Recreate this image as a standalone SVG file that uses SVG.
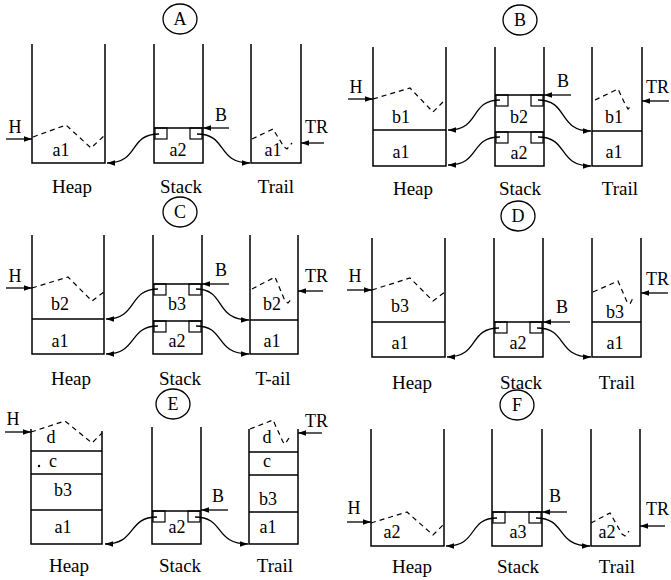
<svg xmlns="http://www.w3.org/2000/svg" width="671" height="580" viewBox="0 0 671 580">
<style>
.w{stroke:#000;stroke-width:1.5;fill:none}
.d{stroke:#000;stroke-width:1.2;fill:none;stroke-dasharray:5 4}
.n{stroke:#000;stroke-width:1.2;fill:none}
.c{stroke:#000;stroke-width:1.3;fill:none;marker-end:url(#ah)}
.p{stroke:#000;stroke-width:1.3;fill:none;marker-end:url(#ah)}
text{font-family:"Liberation Serif","Times New Roman",serif;font-size:18px;fill:#000}
.m{text-anchor:middle}
.lb{font-size:19px;text-anchor:middle}
.ci{stroke:#000;stroke-width:1.3;fill:none}
</style>
<defs>
<marker id="ah" markerUnits="userSpaceOnUse" markerWidth="9" markerHeight="7" refX="8" refY="3.5" orient="auto"><path d="M0,0.8 L8,3.5 L0,6.2 z" fill="#000"/></marker>
</defs>

<g id="tags">
<g id="tagA"><ellipse class="ci" cx="180" cy="19" rx="17" ry="15"/><text class="m" x="180" y="25">A</text></g>
<g id="tagB"><ellipse class="ci" cx="520" cy="20" rx="17" ry="15"/><text class="m" x="520" y="26">B</text></g>
<g id="tagC"><ellipse class="ci" cx="180" cy="212" rx="17" ry="15"/><text class="m" x="180" y="218">C</text></g>
<g id="tagD"><ellipse class="ci" cx="518" cy="216" rx="17" ry="15"/><text class="m" x="518" y="222">D</text></g>
<g id="tagE"><ellipse class="ci" cx="173" cy="404" rx="17" ry="15"/><text class="m" x="173" y="410">E</text></g>
<g id="tagF"><ellipse class="ci" cx="517" cy="405" rx="17" ry="15"/><text class="m" x="517" y="411">F</text></g>
</g>

<!-- Panel A -->
<g id="panelA">
<g id="A-heap"><path class="w" d="M32,44 V163 H105 V44"/><polyline class="d" points="33,137 66,125 91,148 105,135"/><text class="m" x="61" y="156">a1</text><text class="lb" x="72" y="193">Heap</text></g>
<g id="A-stack"><path class="w" d="M154,44 V163 H203 V44 M154,128 H203"/><rect class="n" x="155" y="128" width="12" height="11"/><rect class="n" x="190" y="128" width="12" height="11"/><text class="m" x="178" y="156">a2</text><text class="lb" x="181" y="193">Stack</text></g>
<g id="A-trail"><path class="w" d="M251,44 V163 H301 V44"/><polyline class="d" points="252,139 273,129 284,147 287,149 292,143"/><text class="m" x="273" y="156">a1</text><text class="lb" x="276" y="193">Trail</text></g>
<g id="A-regs"><text class="m" x="15" y="133">H</text><text class="m" x="221" y="121">B</text><text x="305" y="133">TR</text></g>
<g id="A-connectors">
<line class="p" x1="6" y1="139" x2="32" y2="139"/>
<line class="p" x1="229" y1="128" x2="203" y2="128"/>
<line class="p" x1="324" y1="143" x2="301" y2="143"/>
<path class="c" d="M159,134 C128,134 140,163 107,163"/>
<path class="c" d="M197,134 C228,134 216,163 250,163"/>
</g>
</g>

<!-- Panel B -->
<g id="panelB" transform="translate(341,3)">
<g id="B-heap"><path class="w" d="M32,44 V163 H105 V44 M32,127 H105"/><polyline class="d" points="32,96 69,85 92,109 104,97"/><text class="m" x="60" y="120">b1</text><text class="m" x="60" y="155">a1</text><text class="lb" x="72" y="192">Heap</text></g>
<g id="B-stack"><path class="w" d="M154,44 V163 H203 V44 M154,92 H203 M154,129 H203"/><rect class="n" x="155" y="92" width="12" height="11"/><rect class="n" x="190" y="92" width="12" height="11"/><rect class="n" x="155" y="129" width="12" height="11"/><rect class="n" x="190" y="129" width="12" height="11"/><text class="m" x="178" y="120">b2</text><text class="m" x="178" y="156">a2</text><text class="lb" x="179" y="192">Stack</text></g>
<g id="B-trail"><path class="w" d="M251,44 V163 H301 V44 M251,128 H301"/><polyline class="d" points="254,97 277,86 284,101 287,106 291,102"/><text class="m" x="273" y="120">b1</text><text class="m" x="273" y="155">a1</text><text class="lb" x="279" y="192">Trail</text></g>
<g id="B-regs"><text class="m" x="15" y="90">H</text><text class="m" x="222" y="84">B</text><text x="305" y="90">TR</text></g>
<g id="B-connectors">
<line class="p" x1="7" y1="96" x2="32" y2="96"/>
<line class="p" x1="230" y1="92" x2="203" y2="92"/>
<line class="p" x1="328" y1="98" x2="301" y2="98"/>
<path class="c" d="M159,97 C128,97 140,127 107,127"/>
<path class="c" d="M197,97 C228,97 216,128 250,128"/>
<path class="c" d="M159,134 C128,134 140,162 107,162"/>
<path class="c" d="M197,134 C228,134 216,163 250,163"/>
</g>
</g>

<!-- Panel C -->
<g id="panelC" transform="translate(0,191)">
<g id="C-heap"><path class="w" d="M32,44 V163 H104 V44 M32,128 H104"/><polyline class="d" points="32,97 68,86 92,110 104,101"/><text class="m" x="60" y="119">b2</text><text class="m" x="60" y="156">a1</text><text class="lb" x="71" y="194">Heap</text></g>
<g id="C-stack"><path class="w" d="M153,44 V163 H202 V44 M153,93 H202 M153,130 H202"/><rect class="n" x="154" y="93" width="12" height="11"/><rect class="n" x="189" y="93" width="12" height="11"/><rect class="n" x="154" y="130" width="12" height="11"/><rect class="n" x="189" y="130" width="12" height="11"/><text class="m" x="177" y="119">b3</text><text class="m" x="177" y="156">a2</text><text class="lb" x="180" y="194">Stack</text></g>
<g id="C-trail"><path class="w" d="M250,44 V163 H298 V44 M250,129 H298"/><polyline class="d" points="252,98 275,86 285,110 288,112 292,107"/><text class="m" x="272" y="119">b2</text><text class="m" x="272" y="156">a1</text><text class="lb" x="273" y="194">T-ail</text></g>
<g id="C-regs"><text class="m" x="15" y="91">H</text><text class="m" x="221" y="85">B</text><text x="305" y="91">TR</text></g>
<g id="C-connectors">
<line class="p" x1="6" y1="97" x2="32" y2="97"/>
<line class="p" x1="229" y1="93" x2="202" y2="93"/>
<line class="p" x1="323" y1="100" x2="298" y2="100"/>
<path class="c" d="M158,98 C128,98 138,128 106,128"/>
<path class="c" d="M196,98 C226,98 214,129 249,129"/>
<path class="c" d="M158,135 C128,135 138,163 106,163"/>
<path class="c" d="M196,135 C226,135 214,163 249,163"/>
</g>
</g>

<!-- Panel D -->
<g id="panelD" transform="translate(340,194)">
<g id="D-heap"><path class="w" d="M32,44 V163 H105 V44 M32,128 H105"/><polyline class="d" points="32,96 70,84 93,107 105,98"/><text class="m" x="60" y="118">b3</text><text class="m" x="60" y="155">a1</text><text class="lb" x="72" y="195">Heap</text></g>
<g id="D-stack"><path class="w" d="M154,44 V163 H203 V44 M154,128 H203"/><rect class="n" x="155" y="128" width="12" height="11"/><rect class="n" x="190" y="128" width="12" height="11"/><text class="m" x="178" y="155">a2</text><text class="lb" x="181" y="195">Stack</text></g>
<g id="D-trail"><path class="w" d="M252,44 V163 H301 V44 M252,128 H301"/><polyline class="d" points="253,98 278,87 287,108 290,110 293,104"/><text class="m" x="275" y="124">b3</text><text class="m" x="275" y="155">a1</text><text class="lb" x="277" y="195">Trail</text></g>
<g id="D-regs"><text class="m" x="15" y="88">H</text><text class="m" x="222" y="119">B</text><text x="306" y="91">TR</text></g>
<g id="D-connectors">
<line class="p" x1="7" y1="96" x2="32" y2="96"/>
<line class="p" x1="230" y1="128" x2="203" y2="128"/>
<line class="p" x1="328" y1="99" x2="301" y2="99"/>
<path class="c" d="M159,134 C128,134 140,163 107,163"/>
<path class="c" d="M197,134 C228,134 216,163 251,163"/>
</g>
</g>

<!-- Panel E -->
<g id="panelE" transform="translate(-1,381)">
<g id="E-heap"><path class="w" d="M32,48 V163 H103 V50 M32,70 H103 M32,93 H103 M32,129 H103"/><polyline class="d" points="32,51 66,40 93,62 103,52"/><text class="m" x="52" y="62">d</text><circle cx="40" cy="85" r="1.2" fill="#000"/><text class="m" x="54" y="86">c</text><text class="m" x="64" y="115">b3</text><text class="m" x="64" y="152">a1</text><text class="lb" x="70" y="191">Heap</text></g>
<g id="E-stack"><path class="w" d="M153,46 V163 H202 V46 M153,130 H202"/><rect class="n" x="154" y="130" width="12" height="11"/><rect class="n" x="189" y="130" width="12" height="11"/><text class="m" x="178" y="152">a2</text><text class="lb" x="181" y="191">Stack</text></g>
<g id="E-trail"><path class="w" d="M250,48 V163 H299 V48 M250,71 H299 M250,94 H299 M250,131 H299"/><polyline class="d" points="251,48 274,39 284,61 286,63 290,57"/><text class="m" x="268" y="62">d</text><text class="m" x="268" y="86">c</text><text class="m" x="269" y="124">b3</text><text class="m" x="269" y="152">a1</text><text class="lb" x="276" y="191">Trail</text></g>
<g id="E-regs"><text class="m" x="14" y="44">H</text><text class="m" x="219" y="121">B</text><text x="306" y="46">TR</text></g>
<g id="E-connectors">
<line class="p" x1="6" y1="51" x2="32" y2="51"/>
<line class="p" x1="229" y1="129" x2="202" y2="129"/>
<line class="p" x1="323" y1="52" x2="299" y2="52"/>
<path class="c" d="M158,136 C128,136 138,163 106,163"/>
<path class="c" d="M196,136 C226,136 215,163 249,163"/>
</g>
</g>

<!-- Panel F -->
<g id="panelF" transform="translate(339,383)">
<g id="F-heap"><path class="w" d="M32,46 V163 H105 V46"/><polyline class="d" points="32,140 68,129 94,152 104,142"/><text class="m" x="53" y="155">a2</text><text class="lb" x="73" y="190">Heap</text></g>
<g id="F-stack"><path class="w" d="M153,46 V163 H203 V46 M153,129 H203"/><rect class="n" x="154" y="129" width="12" height="11"/><rect class="n" x="190" y="129" width="12" height="11"/><text class="m" x="179" y="155">a3</text><text class="lb" x="179" y="190">Stack</text></g>
<g id="F-trail"><path class="w" d="M252,46 V163 H301 V46"/><polyline class="d" points="252,140 271,130 283,151 286,153 290,148"/><text class="m" x="268" y="155">a2</text><text class="lb" x="278" y="190">Trail</text></g>
<g id="F-regs"><text class="m" x="15" y="131">H</text><text class="m" x="216" y="119">B</text><text x="307" y="132">TR</text></g>
<g id="F-connectors">
<line class="p" x1="8" y1="139" x2="32" y2="139"/>
<line class="p" x1="228" y1="129" x2="203" y2="129"/>
<line class="p" x1="326" y1="143" x2="301" y2="143"/>
<path class="c" d="M158,135 C128,135 140,163 107,163"/>
<path class="c" d="M197,135 C228,135 216,163 251,163"/>
</g>
</g>
</svg>
